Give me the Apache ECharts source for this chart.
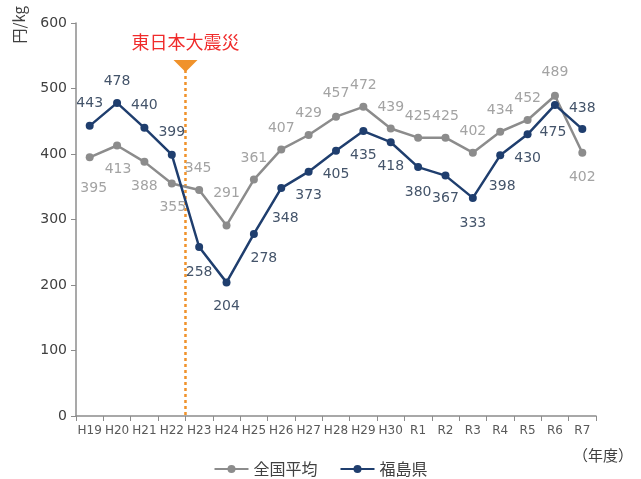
<!DOCTYPE html>
<html><head><meta charset="utf-8">
<script src="https://cdn.jsdelivr.net/npm/echarts@6/dist/echarts.min.js"></script>
<style>html,body{margin:0;padding:0;background:#fff}#c{width:641px;height:479px}</style>
</head><body><div id="c"></div>
<script>
const categories = ['H19','H20','H21','H22','H23','H24','H25','H26','H27','H28','H29','H30','R1','R2','R3','R4','R5','R6','R7'];
const nationalAvg = [395,413,388,355,345,291,361,407,429,457,472,439,425,425,402,434,452,489,402];
const fukushima = [443,478,440,399,258,204,278,348,373,405,435,418,380,367,333,398,430,475,438];
const yTicks = [0,100,200,300,400,500,600];
const eventAfterIndex = 3; // between H22 and H23

// label offsets (layout only)
const natOffsets = [[4,31],[1,24],[0,24],[1,24],[-1,-22],[0,-32],[0,-21],[0,-21],[0,-22],[0,-23],[0,-21],[0,-21],[0,-21],[0,-21],[0,-21],[0,-21],[0,-22],[0,-23],[0,25]];
const fukOffsets = [[0,-22],[0,-22],[0,-22],[0,-22],[0,25],[0,24],[10,24],[4,30],[0,24],[0,24],[0,24],[0,24],[0,25],[0,23],[0,25],[2,31],[0,24],[-2,27],[0,-21]];

const GRAY='#8c8c8c', GRAYL='#a3a3a3', NAVY='#1f3e6e', NAVYL='#44546a';
const NUMF='"DejaVu Sans", Verdana, sans-serif';
const CJK='"Noto Sans CJK JP", sans-serif';

function mk(vals, offs, lc) {
  return vals.map((v,i)=>({value:v, label:{offset:offs[i]}}));
}

const chart = echarts.init(document.getElementById('c'), null, {renderer:'canvas'});
const option = {
  animation:false,
  grid:{left:76, right:45, top:23, bottom:63, containLabel:false},
  xAxis:{type:'category', data:categories, boundaryGap:true,
    axisLine:{lineStyle:{color:'#8c8c8c', width:1.5}},
    axisTick:{show:true, length:5, lineStyle:{color:'#8c8c8c'}},
    axisLabel:{color:'#595959', fontSize:12, fontFamily:NUMF, margin:9, interval:0}},
  yAxis:{type:'value', min:yTicks[0], max:yTicks[yTicks.length-1], interval:100,
    axisLine:{show:true, lineStyle:{color:'#8c8c8c', width:1.5}},
    axisTick:{show:true, length:5, lineStyle:{color:'#8c8c8c'}},
    splitLine:{show:false},
    axisLabel:{color:'#404040', fontSize:14, fontFamily:NUMF, margin:9}},
  legend:{left:'center', top:456, itemWidth:34, itemHeight:10, itemGap:22,
    textStyle:{fontFamily:CJK, fontSize:16, color:'#404040'},
    data:['全国平均','福島県']},
  series:[
    {name:'全国平均', type:'line', data:mk(nationalAvg, natOffsets), symbol:'circle', symbolSize:8,
      lineStyle:{color:GRAY, width:2.5}, itemStyle:{color:GRAY},
      label:{show:true, position:'inside', color:GRAYL, fontSize:14, fontFamily:NUMF}, z:2},
    {name:'福島県', type:'line', data:mk(fukushima, fukOffsets), symbol:'circle', symbolSize:8,
      lineStyle:{color:NAVY, width:2.5}, itemStyle:{color:NAVY},
      label:{show:true, position:'inside', color:NAVYL, fontSize:14, fontFamily:NUMF}, z:3}
  ],
  graphic:[
    {type:'text', left:12, top:6, rotation:Math.PI/2, style:{text:'円/kg', font:'15px '+CJK, fill:'#404040'}},
    {type:'text', id:'unitX', right:8, top:448, style:{text:'（年度）', font:'15px '+CJK, fill:'#404040'}}
  ]
};
chart.setOption(option);

const x1 = chart.convertToPixel({xAxisIndex:0}, eventAfterIndex);
const x2 = chart.convertToPixel({xAxisIndex:0}, eventAfterIndex+1);
const ex = (x1+x2)/2;
const y0 = chart.convertToPixel({yAxisIndex:0}, 0);
chart.setOption({graphic:[
  {type:'text', left:12, top:6, rotation:Math.PI/2, style:{text:'円/kg', font:'15px '+CJK, fill:'#404040'}},
  {type:'text', right:8, top:448, style:{text:'（年度）', font:'15px '+CJK, fill:'#404040'}},
  {type:'line', shape:{x1:ex, y1:70, x2:ex, y2:y0}, style:{stroke:'#f0922b', lineWidth:2.5, lineDash:[3,3]}, z:1},
  {type:'polygon', shape:{points:[[ex-12,60],[ex+12,60],[ex,72]]}, style:{fill:'#f0922b'}, z:5},
  {type:'text', x:ex, y:42, style:{text:'東日本大震災', font:'18px '+CJK, fill:'#f02b2b', textAlign:'center', textVerticalAlign:'middle'}, z:5}
]}, {replaceMerge:['graphic']});
</script></body></html>
